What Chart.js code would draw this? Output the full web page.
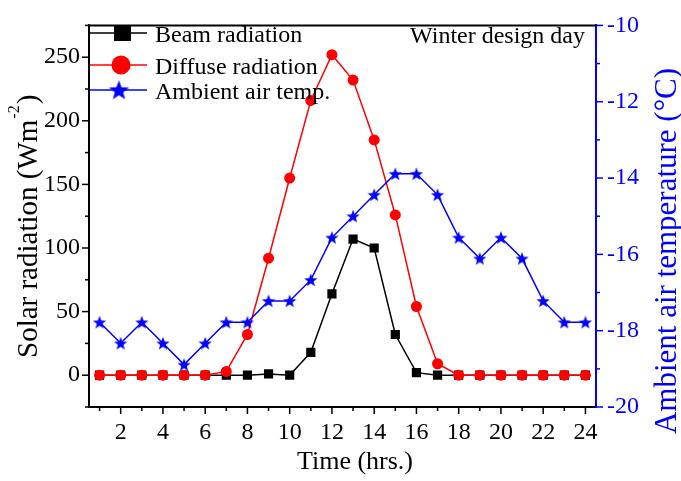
<!DOCTYPE html>
<html>
<head>
<meta charset="utf-8">
<script src="https://cdn.jsdelivr.net/npm/chart.js@4.4.1/dist/chart.umd.min.js"></script>
<style>
  html, body { margin: 0; padding: 0; background: #fff; }
  canvas { display: block; }
</style>
</head>
<body>
<canvas id="c" width="681" height="481"></canvas>
<script>
// data (hour of day, W/m2, deg C)
var HOURS   = [1,2,3,4,5,6,7,8,9,10,11,12,13,14,15,16,17,18,19,20,21,22,23,24];
var BEAM    = [0,0,0,0,0,0,0,0,1,0,18,64,107,100,32,2,0,0,0,0,0,0,0,0];
var DIFFUSE = [0,0,0,0,0,0,3,32,92,155,216,252,232,185,126,54,9,0,0,0,0,0,0,0];
var AMBIENT = [-17.78,-18.33,-17.78,-18.33,-18.89,-18.33,-17.78,-17.78,-17.22,-17.22,-16.67,-15.56,
               -15.0,-14.44,-13.89,-13.89,-14.44,-15.56,-16.11,-15.56,-16.11,-17.22,-17.78,-17.78];
var LABELS  = ["Beam radiation", "Diffuse radiation", "Ambient air temp."];

var FONT = "'Liberation Serif', 'Times New Roman', serif";
var BLUE = "#0000ff";

function pts(vals) {
  return HOURS.map(function(h, i) { return { x: h, y: vals[i] }; });
}

function makeStar(size, color) {
  var c = document.createElement("canvas");
  c.width = size; c.height = size;
  var g = c.getContext("2d");
  var R = size / 2, r = R * 0.42, cx = size / 2, cy = size / 2 + size * 0.04;
  g.beginPath();
  for (var i = 0; i < 10; i++) {
    var rad = i % 2 === 0 ? R : r;
    var a = -Math.PI / 2 + i * Math.PI / 5;
    var px = cx + rad * Math.cos(a), py = cy + rad * Math.sin(a);
    if (i === 0) g.moveTo(px, py); else g.lineTo(px, py);
  }
  g.closePath();
  g.fillStyle = color;
  g.fill();
  return c;
}

var starSmall = makeStar(14, BLUE);
var starBig   = makeStar(21, BLUE);

function line(ctx, x1, y1, x2, y2) {
  ctx.beginPath(); ctx.moveTo(x1, y1); ctx.lineTo(x2, y2); ctx.stroke();
}

// ── frame, minor/major ticks, titles, legend ─────────────────
var decor = {
  id: "decor",
  afterDraw: function(chart) {
    var ctx = chart.ctx, a = chart.chartArea;
    var xs = chart.scales.x, ys = chart.scales.y, yr = chart.scales.y1;
    ctx.save();

    // top frame line
    ctx.strokeStyle = "#000"; ctx.lineWidth = 2;
    line(ctx, a.left - 1, a.top, a.right, a.top);

    // tick marks (outward)
    ctx.lineWidth = 1.5;
    HOURS.forEach(function(h) {
      var px = xs.getPixelForValue(h);
      line(ctx, px, a.bottom, px, a.bottom + (h % 2 === 0 ? 7 : 4));
    });
    for (var v = -25; v <= 275; v += 25) {
      var py = ys.getPixelForValue(v);
      line(ctx, a.left, py, a.left - (v % 50 === 0 ? 7 : 4), py);
    }
    ctx.strokeStyle = BLUE;
    for (var t = -20; t <= -10; t += 1) {
      var py2 = yr.getPixelForValue(t);
      line(ctx, a.right, py2, a.right + (t % 2 === 0 ? 7 : 4), py2);
    }

    // x title
    ctx.fillStyle = "#000";
    ctx.font = "26px " + FONT;
    ctx.textAlign = "center"; ctx.textBaseline = "alphabetic";
    ctx.fillText("Time (hrs.)", 355, 469);

    // left title with superscript
    ctx.save();
    ctx.translate(37, 358);
    ctx.rotate(-Math.PI / 2);
    ctx.textAlign = "left";
    ctx.font = "29px " + FONT;
    var s1 = "Solar radiation (Wm";
    ctx.fillText(s1, 0, 0);
    var w1 = ctx.measureText(s1).width;
    ctx.font = "16px " + FONT;
    ctx.fillText("-2", w1 + 1, -18);
    var w2 = ctx.measureText("-2").width;
    ctx.font = "29px " + FONT;
    ctx.fillText(")", w1 + w2 + 2, 0);
    ctx.restore();

    // right title
    ctx.save();
    ctx.translate(676, 251);
    ctx.rotate(-Math.PI / 2);
    ctx.fillStyle = BLUE;
    ctx.font = "31px " + FONT;
    ctx.textAlign = "center";
    ctx.fillText("Ambient air temperature (\u00B0C)", 0, 0);
    ctx.restore();

    // annotation
    ctx.fillStyle = "#000";
    ctx.font = "24px " + FONT;
    ctx.textAlign = "right";
    ctx.fillText("Winter design day", 585, 43);

    // legend
    var rows = [33, 65, 90];
    var cols = ["#000", "#ff0000", BLUE];
    ctx.textAlign = "left"; ctx.textBaseline = "alphabetic";
    rows.forEach(function(ry, i) {
      ctx.strokeStyle = cols[i]; ctx.lineWidth = 1.5;
      line(ctx, 90, ry, 147, ry);
      ctx.fillStyle = cols[i];
      if (i === 0) ctx.fillRect(114, ry - 8, 17, 16);
      if (i === 1) { ctx.beginPath(); ctx.arc(121, ry, 9.5, 0, Math.PI * 2); ctx.fill(); }
      if (i === 2) ctx.drawImage(starBig, 119 - 10.5, ry - 10.5);
      ctx.fillStyle = "#000";
      ctx.fillText(LABELS[i], 155, ry + 8.5);
    });

    ctx.restore();
  }
};

new Chart(document.getElementById("c").getContext("2d"), {
  type: "line",
  data: {
    datasets: [
      { label: LABELS[0], data: pts(BEAM), yAxisID: "y", order: 3,
        borderColor: "#000", backgroundColor: "#000", borderWidth: 1.5,
        pointStyle: "rect", pointRadius: 6.5, pointBorderWidth: 0, tension: 0 },
      { label: LABELS[1], data: pts(DIFFUSE), yAxisID: "y", order: 2,
        borderColor: "#ff0000", backgroundColor: "#ff0000", borderWidth: 1.5,
        pointStyle: "circle", pointRadius: 5.5, pointBorderWidth: 0, tension: 0 },
      { label: LABELS[2], data: pts(AMBIENT), yAxisID: "y1", order: 1,
        borderColor: BLUE, backgroundColor: BLUE, borderWidth: 1.5,
        pointStyle: starSmall, pointRadius: 7, tension: 0 }
    ]
  },
  options: {
    responsive: false,
    animation: false,
    events: [],
    layout: { padding: { top: 19, left: 0, right: 0, bottom: 0 } },
    plugins: { legend: { display: false }, tooltip: { enabled: false } },
    scales: {
      x: {
        type: "linear", min: 0.5, max: 24.5,
        grid: { display: false, drawTicks: false },
        border: { display: true, color: "#000", width: 2 },
        afterBuildTicks: function(s) { s.ticks = HOURS.map(function(h) { return { value: h }; }); },
        ticks: {
          autoSkip: false, maxRotation: 0, padding: 11,
          color: "#000", font: { family: FONT, size: 24 },
          callback: function(v) { return (v % 2 === 0) ? String(v) : ""; }
        },
        afterFit: function(s) { s.height = 74; }
      },
      y: {
        position: "left", min: -25, max: 275,
        grid: { display: false, drawTicks: false },
        border: { display: true, color: "#000", width: 2 },
        ticks: {
          stepSize: 25, autoSkip: false, padding: 9,
          color: "#000", font: { family: FONT, size: 24 },
          callback: function(v) { return (v >= 0 && v <= 250 && v % 50 === 0) ? String(v) : ""; }
        },
        afterFit: function(s) { s.width = 89; }
      },
      y1: {
        position: "right", min: -20, max: -10,
        grid: { display: false, drawTicks: false },
        border: { display: true, color: BLUE, width: 2 },
        ticks: {
          stepSize: 1, autoSkip: false, padding: 11,
          color: BLUE, font: { family: FONT, size: 24 },
          callback: function(v) { return (v % 2 === 0) ? String(v) : ""; }
        },
        afterFit: function(s) { s.width = 85; }
      }
    }
  },
  plugins: [decor]
});
</script>
</body>
</html>
